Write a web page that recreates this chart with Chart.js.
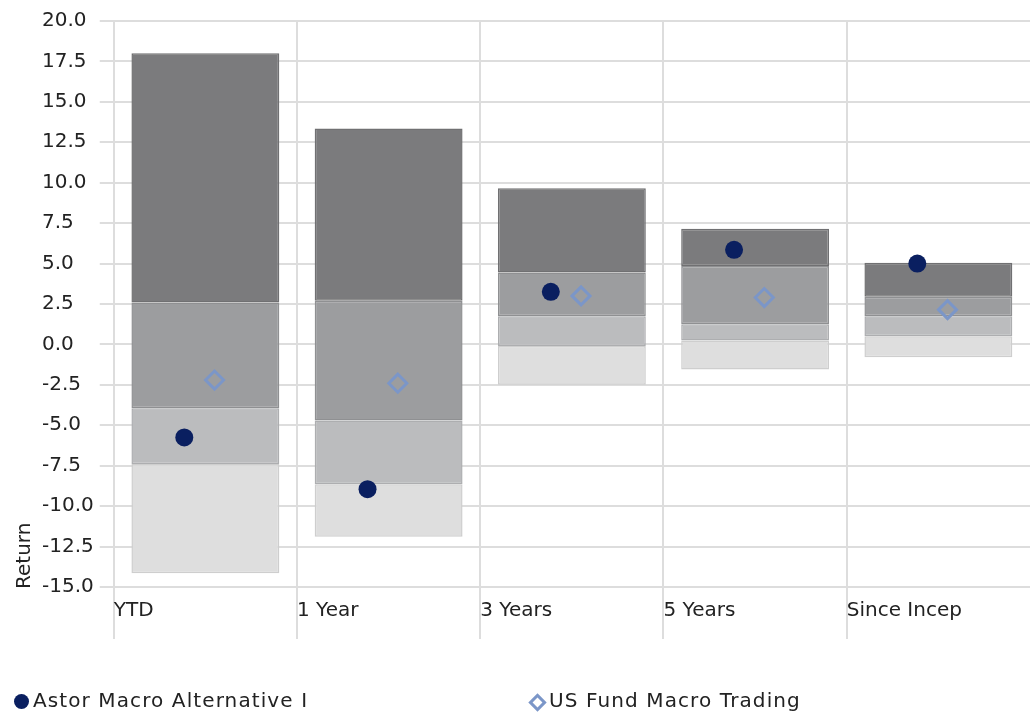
<!DOCTYPE html>
<html lang="en">
<head>
    <meta charset="UTF-8">
    <title>Return Quartiles</title>
    <script src="https://cdn.jsdelivr.net/npm/chart.js@4/dist/chart.umd.min.js"></script>
    <style>
        body { margin: 0; background: #fff; font-family: "DejaVu Sans", Verdana, sans-serif; }
        .wrap { position: relative; width: 1030px; height: 712px; }
        .legend { position: absolute; top: 687px; left: 0; width: 1030px; height: 26px; font-size: 20px; color: #222; }
        .legend span { position: absolute; top: 0; line-height: 26px; white-space: nowrap; letter-spacing: 1.1px; }
        .dot { width: 15px; height: 15px; border-radius: 50%; background: #0a1f60; top: 7px !important; }
        .diamond { width: 7px; height: 7px; border: 3px solid #7b96c8; transform: rotate(45deg); top: 8.5px !important; }
    </style>
</head>
<body>
<div class="wrap">
    <canvas id="chart" width="1030" height="712"></canvas>
    <div class="legend">
        <span class="dot" style="left:14px"></span>
        <span style="left:33px">Astor Macro Alternative I</span>
        <span class="diamond" style="left:530.5px"></span>
        <span style="left:549px">US Fund Macro Trading</span>
    </div>
</div>
<script>
    // categories and quartile breakpoints (return, %)
    const categories = ['YTD', '1 Year', '3 Years', '5 Years', 'Since Incep'];
    const maxValues = [18.0, 13.35, 9.65, 7.15, 5.05];
    const upperQuartile = [2.6, 2.7, 4.45, 4.85, 2.95];
    const medianValues = [-3.95, -4.7, 1.75, 1.25, 1.75];
    const lowerQuartile = [-7.4, -8.65, -0.1, 0.25, 0.5];
    const minValues = [-14.15, -11.9, -2.5, -1.55, -0.8];
    const fundReturns = [-5.75, -8.95, 3.25, 5.85, 5.0];
    const categoryReturns = [-2.2, -2.4, 3.0, 2.9, 2.15];
    const yTicks = [-15, -12.5, -10, -7.5, -5, -2.5, 0, 2.5, 5, 7.5, 10, 12.5, 15, 17.5, 20];

    const gridColor = '#dddddd';
    const textColor = '#222';
    const font = { family: '"DejaVu Sans", Verdana, sans-serif', size: 20 };

    // bars sit in the middle of each category slot, dots are dodged a bit
    const fundShift = -0.115;
    const catShift = 0.05;

    function band(lo, hi, fill, border) {
        return {
            type: 'bar',
            order: 2,
            data: categories.map((c, i) => ({ x: i + 0.5, y: [lo[i], hi[i]] })),
            backgroundColor: fill,
            borderColor: border,
            borderWidth: 1.5,
            borderSkipped: false,
            categoryPercentage: 1,
            barPercentage: 0.807
        };
    }

    // y title sits left of the left-aligned tick labels, drawn by hand
    const yTitle = {
        id: 'yTitle',
        afterDraw(chart) {
            const ctx = chart.ctx;
            const area = chart.chartArea;
            ctx.save();
            ctx.translate(25, area.bottom + 2);
            ctx.rotate(-Math.PI / 2);
            ctx.font = '20px "DejaVu Sans", Verdana, sans-serif';
            ctx.fillStyle = textColor;
            ctx.textAlign = 'left';
            ctx.textBaseline = 'middle';
            ctx.fillText('Return', 0, 0);
            ctx.restore();
        }
    };

    // category separators run on past the labels (not the closing one on the right)
    const longTicks = {
        id: 'longTicks',
        beforeDraw(chart) {
            const ctx = chart.ctx;
            const x = chart.scales.x;
            const bottom = chart.chartArea.bottom;
            ctx.save();
            ctx.strokeStyle = gridColor;
            ctx.lineWidth = 2;
            for (let i = 0; i < categories.length; i++) {
                const px = Math.round(x.getPixelForTick(i));
                ctx.beginPath();
                ctx.moveTo(px, bottom);
                ctx.lineTo(px, bottom + 52);
                ctx.stroke();
            }
            ctx.restore();
        }
    };

    const chart = new Chart(document.getElementById('chart'), {
        type: 'bar',
        data: {
            datasets: [
                {
                    type: 'scatter',
                    label: 'Astor Macro Alternative I',
                    order: 0,
                    data: fundReturns.map((v, i) => ({ x: i + 0.5 + fundShift, y: v })),
                    pointStyle: 'circle',
                    pointRadius: 9,
                    backgroundColor: '#0a1f60',
                    borderColor: '#0a1f60',
                    borderWidth: 0
                },
                {
                    type: 'scatter',
                    label: 'US Fund Macro Trading',
                    order: 1,
                    data: categoryReturns.map((v, i) => ({ x: i + 0.5 + catShift, y: v })),
                    pointStyle: 'rectRot',
                    pointRadius: 9,
                    backgroundColor: 'rgba(0,0,0,0)',
                    borderColor: '#7b96c8',
                    borderWidth: 3
                },
                band(upperQuartile, maxValues, '#7b7b7d', '#707072'),
                band(medianValues, upperQuartile, '#9c9d9f', '#8f9092'),
                band(lowerQuartile, medianValues, '#bbbcbe', '#adaeb0'),
                band(minValues, lowerQuartile, '#dedede', '#cecece')
            ]
        },
        plugins: [yTitle, longTicks],
        options: {
            responsive: false,
            animation: false,
            layout: { autoPadding: false, padding: { left: 42, right: 0, top: 21, bottom: 89 } },
            plugins: {
                legend: { display: false },
                tooltip: { enabled: false }
            },
            scales: {
                x: {
                    type: 'linear',
                    stacked: true,
                    offset: false,
                    min: 0,
                    max: categories.length,
                    afterBuildTicks: axis => { axis.ticks = categories.map((c, i) => ({ value: i })).concat([{ value: categories.length }]); },
                    afterFit: axis => { axis.paddingLeft = 0; axis.paddingRight = 0; },
                    grid: {
                        color: c => c.index === categories.length ? 'rgba(0,0,0,0)' : gridColor,
                        lineWidth: 2,
                        tickLength: 12,
                        offset: false
                    },
                    border: { color: gridColor, width: 2 },
                    ticks: {
                        align: 'start',
                        padding: 0,
                        color: textColor,
                        font: font,
                        maxRotation: 0,
                        autoSkip: false,
                        callback: v => categories[v] ?? ''
                    }
                },
                y: {
                    min: -15,
                    max: 20,
                    afterBuildTicks: axis => { axis.ticks = yTicks.map(v => ({ value: v })); },
                    grid: { color: gridColor, lineWidth: 2, tickLength: 14 },
                    border: { color: gridColor, width: 2 },
                    ticks: {
                        crossAlign: 'far',
                        padding: 3,
                        color: textColor,
                        font: font,
                        callback: v => v.toFixed(1)
                    }
                }
            }
        }
    });
</script>
</body>
</html>
